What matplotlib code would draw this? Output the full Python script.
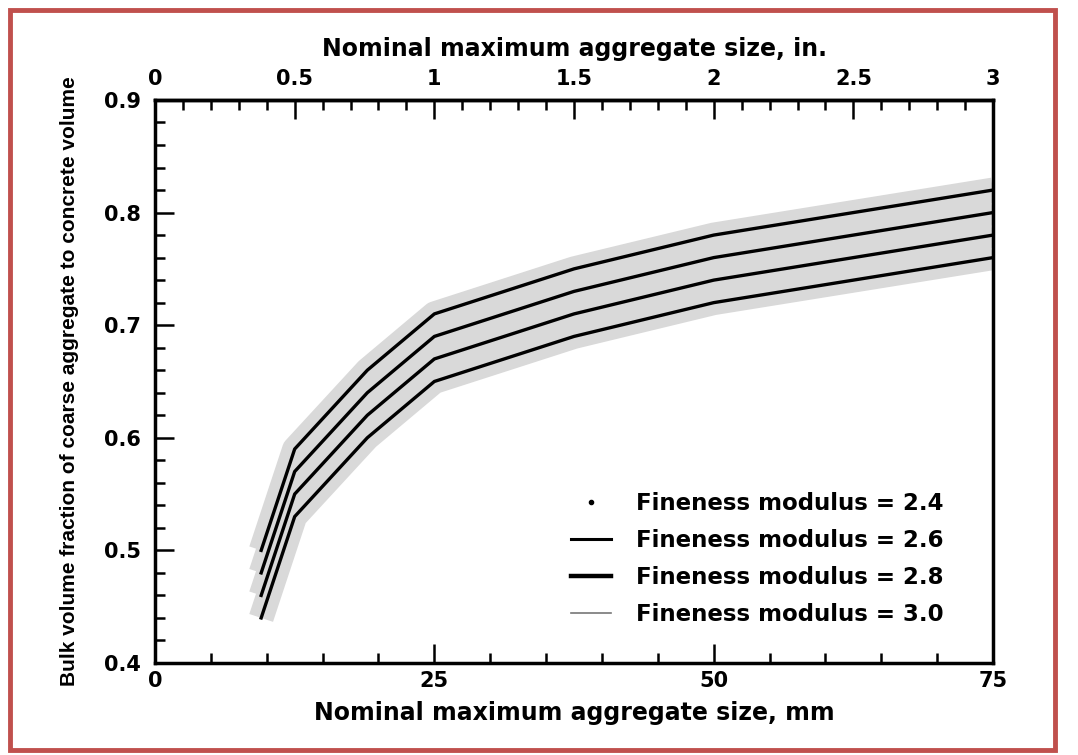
import matplotlib
matplotlib.use("Agg")
from matplotlib import pyplot as plt
from matplotlib.lines import Line2D
from matplotlib.patches import Rectangle
from matplotlib.ticker import MultipleLocator
import numpy as np

# nominal maximum aggregate size, mm
size_mm = [9.5, 12.5, 19, 25, 37.5, 50, 75]
# bulk volume fraction for each fineness modulus
fm_labels = ["2.4", "2.6", "2.8", "3.0"]
fm_24 = [0.50, 0.59, 0.66, 0.71, 0.75, 0.78, 0.82]
fm_26 = [0.48, 0.57, 0.64, 0.69, 0.73, 0.76, 0.80]
fm_28 = [0.46, 0.55, 0.62, 0.67, 0.71, 0.74, 0.78]
fm_30 = [0.44, 0.53, 0.60, 0.65, 0.69, 0.72, 0.76]
series = [fm_24, fm_26, fm_28, fm_30]

in_ticks = [0, 0.5, 1, 1.5, 2, 2.5, 3]
mm_ticks = [0, 25, 50, 75]
y_ticks = [0.4, 0.5, 0.6, 0.7, 0.8, 0.9]

plt.rcParams['font.family'] = ['DejaVu Sans']
plt.rcParams['font.weight'] = 'bold'

fig = plt.figure(figsize=(10.78, 7.55), dpi=100)
ax = fig.add_axes([0.1438, 0.1219, 0.7774, 0.7457])

# grey halo behind the curves (scan look)
for s in series:
    ax.plot(size_mm, s, color='#d9d9d9', lw=18, solid_capstyle='butt', zorder=1)
for s in series:
    ax.plot(size_mm, s, color='black', lw=2.4, zorder=3)

ax.set_xlim(0, 75)
ax.set_ylim(0.4, 0.9)
ax.set_xticks(mm_ticks)
ax.set_xticklabels([str(t) for t in mm_ticks])
ax.xaxis.set_minor_locator(MultipleLocator(5))
ax.set_yticks(y_ticks)
ax.set_yticklabels([f'{t:.1f}' for t in y_ticks])
ax.yaxis.set_minor_locator(MultipleLocator(0.02))
ax.tick_params(which='both', direction='in', right=False, top=False, labelsize=15, width=1.8)
ax.tick_params(axis='y', which='major', length=14, pad=10)
ax.tick_params(axis='x', which='major', length=14, pad=6)
ax.tick_params(which='minor', length=7)
for sp in ax.spines.values():
    sp.set_linewidth(2.5)

ax.set_xlabel('Nominal maximum aggregate size, mm', fontsize=17, fontweight='bold', labelpad=7)
ax.set_ylabel('Bulk volume fraction of coarse aggregate to concrete volume', fontsize=15,
              fontweight='bold', labelpad=18,
              family=['Liberation Sans Narrow', 'Liberation Sans', 'DejaVu Sans'])

# top axis in inches
top = ax.secondary_xaxis('top', functions=(lambda x: x / 25.0, lambda x: x * 25.0))
top.set_xticks(in_ticks)
top.set_xticklabels(['0', '0.5', '1', '1.5', '2', '2.5', '3'])
top.xaxis.set_minor_locator(MultipleLocator(0.1))
top.tick_params(which='both', direction='in', labelsize=15, width=1.8)
top.tick_params(which='major', length=14, pad=8)
top.tick_params(which='minor', length=7)
top.spines['top'].set_linewidth(2.5)
top.set_xlabel('Nominal maximum aggregate size, in.', fontsize=17, fontweight='bold', labelpad=9)

handles = [
    Line2D([0], [0], color='black', lw=0, marker='.', markersize=6, markevery=[0]),
    Line2D([0], [0], color='black', lw=2.2),
    Line2D([0], [0], color='black', lw=3.2),
    Line2D([0], [0], color='#777777', lw=1.2),
]
labels = ['Fineness modulus = ' + f for f in fm_labels]
leg = ax.legend(handles, labels, loc='upper left', frameon=False, fontsize=16.5,
                handlelength=1.75, handletextpad=1.1, labelspacing=0.62,
                bbox_to_anchor=(0.4716, 0.341))

# red frame around picture
fig.patches.append(Rectangle((0.0093, 0.0066), 0.969, 0.980, transform=fig.transFigure,
                             fill=False, edgecolor='#c0504d', lw=3.5))

fig.savefig('out.png', dpi=100)
